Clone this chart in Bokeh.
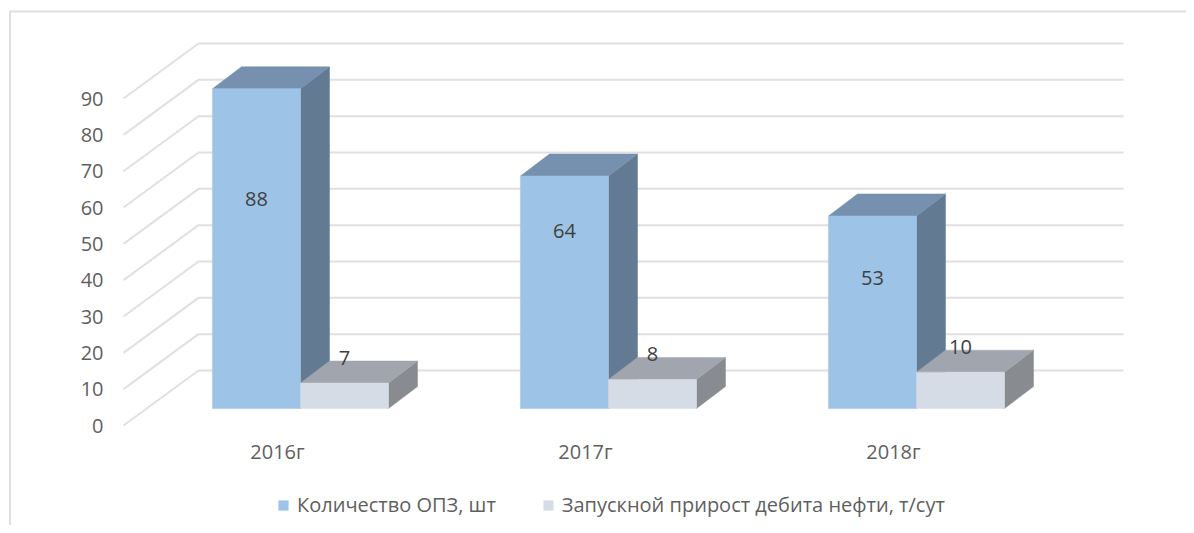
from bokeh.embed import file_html
from bokeh.resources import INLINE
from bokeh.plotting import figure
from bokeh.models import (Range1d, LinearAxis, FixedTicker, ColumnDataSource, Legend, LegendItem,
                          NumeralTickFormatter)
from bokeh.core.properties import value

categories = ["2016г", "2017г", "2018г"]
opz_count = [88, 64, 53]
oil_gain = [7, 8, 10]
y_ticks = [0, 10, 20, 30, 40, 50, 60, 70, 80, 90]
series_names = ["Количество ОПЗ, шт", "Запускной прирост дебита нефти, т/сут"]

# geometry and scale factors (pixels in the picture)
FONT = "Open Sans"
FS = "20px"
W, H = 1186, 525
PX_CAT, PX_UNIT = 308.0, 3.633
ORIGIN_X, ORIGIN_Y = 277.0, 425.0   # category 0 / value 0 on the axis front plane


def xd(px):
    return (px - ORIGIN_X) / PX_CAT


def yd(px):
    return (ORIGIN_Y - px) / PX_UNIT


GROUP_SHIFT = 23 / PX_CAT
BAR_W = 88 / PX_CAT
DEPTH_X, DEPTH_Y = 29 / PX_CAT, 22 / PX_UNIT
BASE = 17 / PX_UNIT
WALL_X, WALL_Y = 75 / PX_CAT, 55 / PX_UNIT

p = figure(width=W, height=H, output_backend="svg", toolbar_location=None,
           x_range=Range1d(xd(0), xd(W)),
           y_range=Range1d(yd(H), yd(0)),
           x_axis_type=None, y_axis_type=None,
           min_border_left=0, min_border_bottom=0, min_border_top=0, min_border_right=0,
           background_fill_color="white", border_fill_color="white", outline_line_color=None)
p.grid.visible = False

# chart-area border
p.multi_line(xs=[[xd(9.5), xd(9.5)], [xd(8.5), xd(W)]],
             ys=[[yd(11), yd(H)], [yd(11), yd(11)]],
             line_color="#e0e0e0", line_width=2)

# grid: floor diagonal + back wall
x_left, x_right = xd(123), xd(1123)
p.multi_line(xs=[[x_left, x_left + WALL_X, x_right] for _ in y_ticks],
             ys=[[t, t + WALL_Y, t + WALL_Y] for t in y_ticks],
             line_color="#e0e0e0", line_width=2)


def box(left, val):
    """Front, top and side faces of a bar from its left edge and value."""
    l, r = left, left + BAR_W
    t = BASE + val
    front = ([l, r, r, l], [BASE, BASE, t, t])
    top = ([l, r, r + DEPTH_X, l + DEPTH_X], [t, t, t + DEPTH_Y, t + DEPTH_Y])
    side = ([r, r + DEPTH_X, r + DEPTH_X, r], [BASE, BASE + DEPTH_Y, t + DEPTH_Y, t])
    return front, top, side


series = [(opz_count, 0.0, ("#9dc3e6", "#7591af", "#637a93")),
          (oil_gain, BAR_W, ("#d6dce5", "#a1a5ad", "#888b90"))]
renderers = []
for vals, shift, (c_front, c_top, c_side) in series:
    faces = [box(i + GROUP_SHIFT - BAR_W + shift, v) for i, v in enumerate(vals)]
    front_r = None
    for k, col in ((2, c_side), (1, c_top), (0, c_front)):
        r = p.patches(xs=[f[k][0] for f in faces], ys=[f[k][1] for f in faces],
                      fill_color=col, line_color=col, line_width=0.5)
        if k == 0:
            front_r = r
    renderers.append(front_r)

# axes, pinned inside the frame
yax = LinearAxis(ticker=FixedTicker(ticks=y_ticks), formatter=NumeralTickFormatter(format="0"),
                 fixed_location=xd(115))
xax = LinearAxis(ticker=FixedTicker(ticks=list(range(len(categories)))),
                 major_label_overrides={i: c for i, c in enumerate(categories)},
                 fixed_location=yd(425))
for ax in (xax, yax):
    ax.axis_line_color = None
    ax.major_tick_line_color = None
    ax.minor_tick_line_color = None
    ax.major_label_text_font = FONT
    ax.major_label_text_font_size = FS
    ax.major_label_text_color = "#5f5f5f"
yax.major_label_standoff = 6
xax.major_label_standoff = 6
p.add_layout(yax, "left")
p.add_layout(xax, "below")

# data labels
label_shift = [-50, -61, -34]
s1 = ColumnDataSource(dict(x=[i + GROUP_SHIFT - BAR_W / 2 for i in range(len(opz_count))],
                           y=[BASE + v / 2 for v in opz_count],
                           t=[str(v) for v in opz_count],
                           off=label_shift))
p.text(x="x", y="y", text="t", y_offset="off", source=s1, text_font=value(FONT), text_font_size=FS,
       text_color="#404040", text_align="center", text_baseline="middle")
s2 = ColumnDataSource(dict(x=[i + GROUP_SHIFT + BAR_W / 2 for i in range(len(oil_gain))],
                           y=[BASE + v for v in oil_gain],
                           t=[str(v) for v in oil_gain]))
p.text(x="x", y="y", text="t", y_offset=-25, source=s2, text_font=value(FONT), text_font_size=FS,
       text_color="#404040", text_align="center", text_baseline="middle")

# legend
legend = Legend(items=[LegendItem(label=n, renderers=[r]) for n, r in zip(series_names, renderers)],
                orientation="horizontal", location=(277, 7), border_line_color=None,
                background_fill_alpha=0, glyph_width=12, glyph_height=12, label_standoff=8,
                spacing=46, padding=6, margin=0,
                label_text_font=FONT, label_text_font_size=FS, label_text_color="#5f5f5f")
p.add_layout(legend)

open("out.html", "w").write(file_html(p, INLINE))
